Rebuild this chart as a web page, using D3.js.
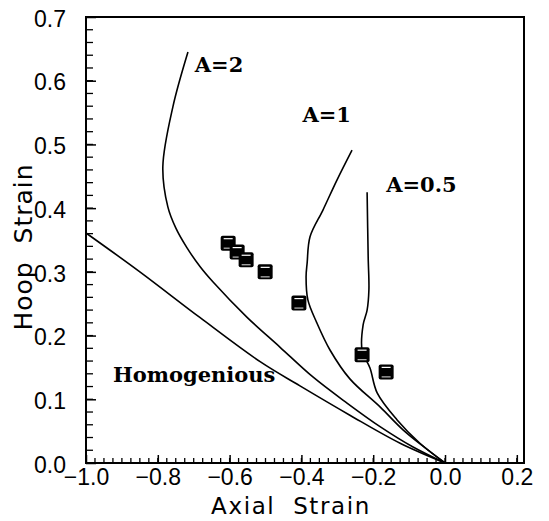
<!DOCTYPE html>
<html lang="en">
<head>
<meta charset="UTF-8">
<title>Hoop vs Axial Strain</title>
<script src="https://d3js.org/d3.v7.min.js"></script>
<style>
  body { margin: 0; background: #fff; }
</style>
</head>
<body>
<svg width="549" height="521"></svg>
<script>
// curve data [axial, hoop]
const homogeneous = [[-1.0, 0.361], [-0.85, 0.300], [-0.682, 0.228], [-0.515, 0.159],
  [-0.404, 0.121], [-0.265, 0.075], [-0.125, 0.031], [0, 0]];
const curveA2 = [[-0.716, 0.645], [-0.758, 0.559], [-0.786, 0.465], [-0.772, 0.402],
  [-0.750, 0.369], [-0.719, 0.338], [-0.682, 0.308], [-0.646, 0.284], [-0.552, 0.229],
  [-0.460, 0.182], [-0.368, 0.135], [-0.273, 0.094], [-0.181, 0.057], [-0.089, 0.025], [0, 0]];
const curveA1 = [[-0.259, 0.491], [-0.301, 0.444], [-0.340, 0.397], [-0.376, 0.355],
  [-0.384, 0.314], [-0.387, 0.292], [-0.382, 0.256], [-0.357, 0.220], [-0.320, 0.177],
  [-0.265, 0.132], [-0.181, 0.088], [-0.117, 0.052], [-0.056, 0.024], [0, 0]];
const curveA05 = [[-0.217, 0.425], [-0.214, 0.323], [-0.212, 0.272], [-0.217, 0.240],
  [-0.228, 0.217], [-0.231, 0.177], [-0.209, 0.149], [-0.189, 0.110], [-0.134, 0.068],
  [-0.070, 0.031], [0, 0]];

// measured points
const expX = [-0.604, -0.579, -0.554, -0.501, -0.407, -0.231, -0.164];
const expY = [0.345, 0.331, 0.319, 0.300, 0.251, 0.170, 0.143];

const xTicks = [-1.0, -0.8, -0.6, -0.4, -0.2, 0.0, 0.2];
const yTicks = [0.0, 0.1, 0.2, 0.3, 0.4, 0.5, 0.6, 0.7];

const labels = [
  { text: "A=2", x: -0.697, y: 0.613 },
  { text: "A=1", x: -0.397, y: 0.535 },
  { text: "A=0.5", x: -0.164, y: 0.425 },
  { text: "Homogenious", x: -0.925, y: 0.127 }
];

const svg = d3.select("svg");
const margin = { top: 17, right: 25, bottom: 58, left: 86 };
const width = 549 - margin.left - margin.right;
const height = 521 - margin.top - margin.bottom;

const g = svg.append("g")
  .attr("transform", `translate(${margin.left},${margin.top})`);

const xScale = d3.scaleLinear().domain([-1.0, 0.22]).range([0, width]);
const yScale = d3.scaleLinear().domain([0, 0.7]).range([height, 0]);

// frame
g.append("rect")
  .attr("width", width)
  .attr("height", height)
  .attr("fill", "none")
  .attr("stroke", "#000")
  .attr("stroke-width", 2);

// minor ticks
const xMinor = d3.range(-1.0, 0.2201, 0.025).filter(v => v <= 0.22);
g.append("g").selectAll("line").data(xMinor).enter().append("line")
  .attr("x1", d => xScale(d)).attr("x2", d => xScale(d))
  .attr("y1", height).attr("y2", height - 5)
  .attr("stroke", "#000").attr("stroke-width", 1.3);

const yMinor = d3.range(0, 0.7001, 0.02);
g.append("g").selectAll("line").data(yMinor).enter().append("line")
  .attr("x1", 0).attr("x2", 7)
  .attr("y1", d => yScale(d)).attr("y2", d => yScale(d))
  .attr("stroke", "#000").attr("stroke-width", 1.3);

// axes
const xAxis = d3.axisBottom(xScale).tickValues(xTicks).tickSizeInner(-8).tickSizeOuter(0)
  .tickPadding(6).tickFormat(d => d3.format(".1f")(d).replace("-", "\u2212"));
const yAxis = d3.axisLeft(yScale).tickValues(yTicks).tickSizeInner(-10).tickSizeOuter(0)
  .tickPadding(20).tickFormat(d3.format(".1f"));

const gx = g.append("g").attr("transform", `translate(0,${height})`).call(xAxis);
const gy = g.append("g").call(yAxis);
[gx, gy].forEach(a => {
  a.select(".domain").remove();
  a.selectAll(".tick line").attr("stroke", "#000").attr("stroke-width", 1.5);
  a.selectAll("text")
    .attr("fill", "#000")
    .style("font-family", "'Liberation Sans', Arial, sans-serif")
    .style("font-size", "23px");
});
gy.selectAll("text").attr("dy", "0.4em");

// curves
const line = d3.line()
  .x(d => xScale(d[0]))
  .y(d => yScale(d[1]))
  .curve(d3.curveCatmullRom.alpha(0.5));

[homogeneous, curveA2, curveA1, curveA05].forEach(c => {
  g.append("path")
    .datum(c)
    .attr("d", line)
    .attr("fill", "none")
    .attr("stroke", "#000")
    .attr("stroke-width", 1.6);
});

// markers
const pts = expX.map((x, i) => [x, expY[i]]);
const mk = g.append("g").selectAll("g").data(pts).enter().append("g")
  .attr("transform", d => `translate(${xScale(d[0])},${yScale(d[1])})`);
mk.append("rect")
  .attr("x", -7.5).attr("y", -7.5).attr("width", 15).attr("height", 15)
  .attr("rx", 2).attr("fill", "#000");
mk.append("line")
  .attr("x1", -4.5).attr("x2", 4.5).attr("y1", -4.5).attr("y2", -4.5)
  .attr("stroke", "#fff").attr("stroke-width", 1.2);
mk.append("line")
  .attr("x1", -4.5).attr("x2", 4.5).attr("y1", 5).attr("y2", 5)
  .attr("stroke", "#bbb").attr("stroke-width", 1.2);

// curve labels
g.append("g").selectAll("text").data(labels).enter().append("text")
  .attr("x", d => xScale(d.x))
  .attr("y", d => yScale(d.y))
  .text(d => d.text)
  .style("font-family", "'DejaVu Serif', serif")
  .style("font-weight", "bold")
  .style("font-size", "21px")
  .attr("fill", "#000");

// axis titles
svg.append("text")
  .attr("x", margin.left + xScale(-0.429))
  .attr("y", 514)
  .attr("text-anchor", "middle")
  .style("font-family", "'DejaVu Sans', sans-serif")
  .style("font-size", "23px")
  .style("letter-spacing", "1.6px")
  .attr("xml:space", "preserve")
  .text("Axial  Strain");

svg.append("text")
  .attr("transform", `translate(32,247) rotate(-90)`)
  .attr("text-anchor", "middle")
  .style("font-family", "'DejaVu Sans', sans-serif")
  .style("font-size", "25px")
  .style("letter-spacing", "1px")
  .attr("xml:space", "preserve")
  .text("Hoop  Strain");
</script>
</body>
</html>
